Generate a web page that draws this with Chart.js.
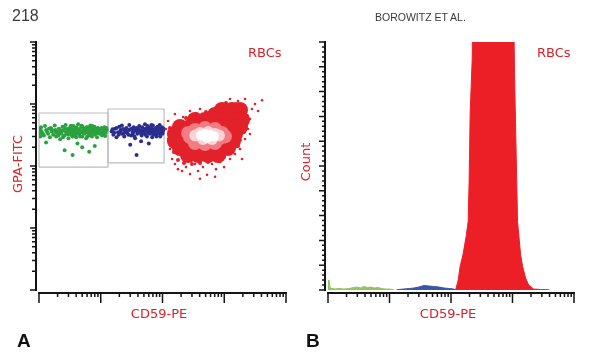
<!DOCTYPE html>
<html>
<head>
<meta charset="utf-8">
<script src="https://cdn.jsdelivr.net/npm/chart.js@4.4.1/dist/chart.umd.min.js"></script>
<style>
  body { margin: 0; background: #fff; width: 600px; height: 360px; position: relative; overflow: hidden; }
  canvas { position: absolute; top: 0; }
  #panelA { left: 0; }
  #panelB { left: 300px; }
  .lbl { position: absolute; white-space: nowrap; line-height: 1; }
  .axis { color: #d8232a; font: 13px "DejaVu Sans", sans-serif; }
  .rot { transform: translate(-50%, -50%) rotate(-90deg); }
  .ctr { transform: translateX(-50%); }
  .head { color: #3a3a3a; font-family: "Liberation Sans", Arial, sans-serif; }
  .tag { color: #111; font: bold 19px "Liberation Sans", Arial, sans-serif; }
</style>
</head>
<body>
<canvas id="panelA" width="300" height="360"></canvas>
<canvas id="panelB" width="300" height="360"></canvas>

<div class="lbl head" style="left:12px;top:8px;font-size:16px;">218</div>
<div class="lbl head" style="left:375px;top:12px;font-size:10.5px;">BOROWITZ ET AL.</div>
<div class="lbl axis" style="left:248px;top:45px;">RBCs</div>
<div class="lbl axis" style="left:537px;top:45px;">RBCs</div>
<div class="lbl axis ctr" style="left:159px;top:306px;">CD59-PE</div>
<div class="lbl axis ctr" style="left:448px;top:306px;">CD59-PE</div>
<div class="lbl axis rot" style="left:17px;top:164px;">GPA-FITC</div>
<div class="lbl axis rot" style="left:305px;top:162px;">Count</div>
<div class="lbl tag" style="left:17px;top:330px;">A</div>
<div class="lbl tag" style="left:306px;top:330px;">B</div>

<script>
// axis ticks (log decades for fluorescence, linear for counts)
const logMajor = [1, 10, 100, 1000, 10000];
const logMinor = [2, 3, 4, 5, 6, 7, 8, 9, 20, 30, 40, 50, 60, 70, 80, 90,
  200, 300, 400, 500, 600, 700, 800, 900, 2000, 3000, 4000, 5000, 6000, 7000, 8000, 9000];
const countMajor = [0, 25, 50, 75, 100, 125, 150, 175, 200, 225, 250];
const countMinor = [5, 10, 15, 20, 30, 35, 40, 45, 55, 60, 65, 70, 80, 85, 90, 95,
  105, 110, 115, 120, 130, 135, 140, 145, 155, 160, 165, 170, 180, 185, 190, 195,
  205, 210, 215, 220, 230, 235, 240, 245];

// gates on the dot plot [CD59 range], [GPA range]
const gateType3X = [1, 13.1];
const gateType3Y = [96, 716];
const gateType2X = [13.1, 106];
const gateType2Y = [112, 830];

// dot plot A: cells as [CD59-PE, GPA-FITC]
const greenCells = [[1.05,300],[1.05,340],[1.05,390],[1.08,420],[1.1,360],[1.2,310],[1.25,440],[1.3,380],
  [1.4,330],[1.5,290],[1.55,410],[1.6,360],[1.7,320],[1.8,450],[1.85,380],[1.9,300],[2.0,350],[2.1,400],
  [2.2,270],[2.3,330],[2.4,430],[2.5,370],[2.6,310],[2.7,460],[2.8,340],[2.9,395],[3.0,280],[3.1,350],
  [3.2,420],[3.3,320],[3.4,380],[3.5,300],[3.6,440],[3.7,360],[3.8,330],[3.9,400],[4.0,290],[4.1,350],
  [4.3,470],[4.4,380],[4.5,320],[4.7,410],[4.8,350],[5.0,300],[5.1,430],[5.3,370],[5.5,330],[5.6,400],
  [5.8,280],[6.0,355],[6.2,420],[6.4,310],[6.6,380],[6.8,450],[7.0,340],[7.2,300],[7.4,395],[7.6,360],
  [7.9,430],[8.1,320],[8.4,375],[8.7,290],[9.0,410],[9.3,350],[9.6,330],[10,390],[10.5,310],[11,360],
  [11.5,420],[12,340],[12.5,380],[2.6,180],[3.5,150],[5.0,200],[6.5,170],[4.2,230],[8.0,210],[1.3,240],
  [1.6,395],[1.9,345],[2.05,310],[2.3,375],[2.45,290],[2.6,405],[2.75,355],[2.95,325],[3.15,385],[3.3,445],
  [3.45,345],[3.65,395],[3.85,305],[4.05,420],[4.25,335],[4.55,385],[4.65,300],[4.9,445],[5.2,340],[5.4,395],
  [5.7,350],[5.9,420],[6.1,300],[6.3,375],[6.5,335],[6.7,410],[6.9,365],[7.1,320],[7.3,440],[7.5,345],
  [7.8,375],[8.2,405],[8.6,345],[8.9,375],[9.4,395],[9.8,355],[10.3,410],[10.8,335],[11.3,385],[11.8,305],
  [12.3,410],[1.15,335],[1.35,355],[1.45,400],[1.75,370],[2.15,355],[2.9,360],[3.6,340],[4.2,370],[5.0,360],
  [6.0,390],[7.0,380],[8.0,360],[9.0,340]];
const blueCells = [[15,360],[16,320],[17,400],[18,290],[19,350],[20,430],[21,380],[22,330],[24,300],
  [25,370],[26,410],[27,340],[29,460],[30,390],[31,310],[33,350],[34,420],[36,280],[37,370],[39,330],
  [40,400],[42,440],[44,360],[46,310],[48,380],[50,340],[52,470],[54,400],[56,300],[58,360],[60,420],
  [63,330],[65,380],[68,290],[70,450],[72,350],[75,400],[78,320],[80,370],[83,430],[86,340],[89,390],
  [92,300],[95,360],[98,420],[100,330],[103,380],[30,220],[45,250],[38,150],[60,230],
  [15.5,390],[16.5,345],[18,410],[19.5,320],[21,360],[23,395],[24,340],[26,365],[28,320],[29,380],
  [32,400],[33,330],[35,370],[38,410],[41,350],[43,380],[45,330],[47,420],[49,360],[51,390],[53,320],
  [55,370],[57,440],[59,340],[62,390],[64,350],[66,410],[69,370],[71,320],[74,380],[77,355],[79,410],
  [82,345],[85,380],[88,330],[91,400],[94,345],[97,380],[101,355],[104,400],[90,460],[66,460],[22,450],
  [35,300],[80,300]];
const redBody = [[920,800],[1335,800],[1799,800],[708,665],[1028,665],[1493,665],
  [336,552],[488,552],[708,552],[1028,552],[1493,552],[1938,552],
  [192,426],[279,426],[405,426],[588,426],[853,426],[1239,426],[1799,426],
  [159,328],[231,328],[336,328],[488,328],[708,328],[1028,328],[1493,328],
  [159,253],[231,253],[336,253],[488,253],[708,253],[1028,253],[1386,253],
  [192,195],[279,195],[405,195],[588,195],[853,195],[1150,195],
  [259,150],[376,150],[546,150],[792,150]];
const redEdge = [[132,410],[143,316],[137,218],[153,168],[178,125],[223,112],[300,108],[405,112],
  [546,116],[735,125],[991,140],[1335,168],[1670,210],[1799,263],[2089,353],[2250,476],[2336,640],
  [2089,862],[1549,1000],[1067,1038],[735,862],[506,743],[349,690],[240,595],[178,512]];
const redStray = [[123,272],[132,188],[143,130],[159,108],[178,89],[207,83],[240,96],[279,74],[336,108],
  [376,83],[453,96],[526,72],[634,108],[735,89],[853,116],[991,96],[1239,130],[1493,156],[1799,188],
  [2168,272],[2425,395],[2612,573],[2813,830],[3148,1000],[3521,771],[2168,1205],[1670,1117],[1239,1205],
  [2612,328],[1938,130],[114,395],[123,532],[159,690],[215,617],[279,771],[405,830],[231,130],[178,156],
  [588,130],[1150,188],[405,62],[708,67],[4090,1150]];
const redMid = [[336,381],[488,410],[708,395],[920,341],[279,294],[405,294],[588,294],[853,283],
  [336,235],[488,226],[708,235],[260,341],[1028,300]];
const redLight = [[405,341],[546,353],[708,328],[453,272],[634,272],[340,310],[820,310]];
const redCore = [[488,328],[588,316],[526,283],[420,310],[680,300]];

// histogram B: CD59-PE channel and event count
const greenHistX = [1, 1.04, 1.08, 1.3, 1.5, 1.8, 2.2, 2.6, 3.0, 3.4, 3.8, 4.4, 5.0, 5.6, 6.5, 7.5, 8.5, 10, 11, 12];
const greenHistY = [9, 10, 2, 1, 1.5, 1, 1.5, 2.5, 3, 2, 3.5, 2.5, 3, 2, 2.5, 1.5, 1, 1, 0.5, 0];
const blueHistX = [13, 14.3, 17, 21, 25, 30, 36, 44, 53, 64, 77, 92, 111, 118];
const blueHistY = [0, 0.5, 1, 1.5, 2, 3, 4.5, 4, 3.5, 3, 2, 1.5, 1, 0];
const redHistX = [118, 121, 130, 141, 157, 176, 190, 197, 205, 221, 229, 300, 436, 700, 1038, 1079, 1120,
  1208, 1352, 1459, 1633, 1829, 2208, 2877, 3475, 4000];
const redHistY = [0, 2, 9, 24, 36, 54, 69, 109, 179, 232, 330, 380, 420, 380, 300, 219, 169,
  69, 36, 24, 12, 5, 1, 0.5, 0.5, 0];

const toPts = list => list.map(([x, y]) => ({ x, y }));
const zipPts = (xs, ys) => xs.map((x, i) => ({ x, y: ys[i] }));
const gateBox = (gx, gy) => toPts([[gx[0], gy[0]], [gx[1], gy[0]], [gx[1], gy[1]], [gx[0], gy[1]], [gx[0], gy[0]]]);

// axis lines and ticks drawn from the chart's own scales
const axisTicks = {
  id: 'axisTicks',
  afterDatasetsDraw(chart, args, opts) {
    const { ctx, chartArea: area, scales } = chart;
    const ax = area.left - opts.yGap;
    const ay = area.bottom + opts.xGap;
    ctx.save();
    ctx.strokeStyle = '#151515';
    ctx.lineWidth = 2;
    ctx.beginPath();
    ctx.moveTo(ax, area.top - 1); ctx.lineTo(ax, area.bottom + 1);
    ctx.moveTo(area.left - 1, ay); ctx.lineTo(area.right + 1, ay);
    ctx.stroke();
    ctx.lineWidth = 1.5;
    ctx.beginPath();
    opts.yMajor.forEach(v => { const p = scales.y.getPixelForValue(v); ctx.moveTo(ax - opts.yMajorLen, p); ctx.lineTo(ax, p); });
    opts.yMinor.forEach(v => { const p = scales.y.getPixelForValue(v); ctx.moveTo(ax - opts.yMinorLen, p); ctx.lineTo(ax, p); });
    opts.xMajor.forEach(v => { const p = scales.x.getPixelForValue(v); ctx.moveTo(p, ay); ctx.lineTo(p, ay + 10); });
    opts.xMinor.forEach(v => { const p = scales.x.getPixelForValue(v); ctx.moveTo(p, ay); ctx.lineTo(p, ay + 4); });
    ctx.stroke();
    ctx.restore();
  }
};

const logScale = { type: 'logarithmic', min: 1, max: 10000, display: false };

function dots(data, color, r, order) {
  return { data: toPts(data), backgroundColor: color, borderWidth: 0, pointRadius: r, order };
}

new Chart(document.getElementById('panelA'), {
  type: 'scatter',
  data: {
    datasets: [
      dots(redCore, '#ffffff', 5, 0),
      dots(redLight, '#fbd3d5', 6, 1),
      dots(redMid, '#f27c83', 7, 2),
      dots(redBody, '#e3212b', 8, 3),
      dots(redEdge, '#e3212b', 2, 4),
      dots(redStray, '#e3212b', 1.3, 5),
      dots(blueCells, '#2b2e8e', 2, 6),
      dots(greenCells, '#2ba23f', 2, 7),
      { data: gateBox(gateType3X, gateType3Y), showLine: true, borderColor: '#bdbdbd', borderWidth: 1.2, pointRadius: 0, clip: 3, order: 8 },
      { data: gateBox(gateType2X, gateType2Y), showLine: true, borderColor: '#bdbdbd', borderWidth: 1.2, pointRadius: 0, clip: 3, order: 8 }
    ]
  },
  options: {
    responsive: false, animation: false, devicePixelRatio: 1, events: [],
    layout: { padding: { left: 39, top: 42, right: 14, bottom: 70 } },
    scales: { x: logScale, y: logScale },
    plugins: {
      legend: { display: false }, tooltip: { enabled: false },
      axisTicks: { xGap: 3, yGap: 3, xMajor: logMajor, xMinor: logMinor, yMajor: logMajor, yMinor: logMinor, yMajorLen: 6, yMinorLen: 4 }
    }
  },
  plugins: [axisTicks]
});

function hist(xs, ys, color) {
  return { data: zipPts(xs, ys), borderColor: color, backgroundColor: color, borderWidth: 1, fill: 'origin', pointRadius: 0, tension: 0 };
}

new Chart(document.getElementById('panelB'), {
  type: 'line',
  data: {
    datasets: [
      hist(greenHistX, greenHistY, '#8fc75a'),
      hist(blueHistX, blueHistY, '#3a56a5'),
      hist(redHistX, redHistY, '#ec1f27')
    ]
  },
  options: {
    responsive: false, animation: false, devicePixelRatio: 1, events: [],
    layout: { padding: { left: 28, top: 42, right: 26, bottom: 70 } },
    scales: {
      x: logScale,
      y: { type: 'linear', min: 0, max: 250, display: false }
    },
    plugins: {
      legend: { display: false }, tooltip: { enabled: false },
      axisTicks: { xGap: 3, yGap: 3, xMajor: logMajor, xMinor: logMinor, yMajor: countMajor, yMinor: countMinor, yMajorLen: 6, yMinorLen: 3 }
    }
  },
  plugins: [axisTicks]
});
</script>
</body>
</html>
